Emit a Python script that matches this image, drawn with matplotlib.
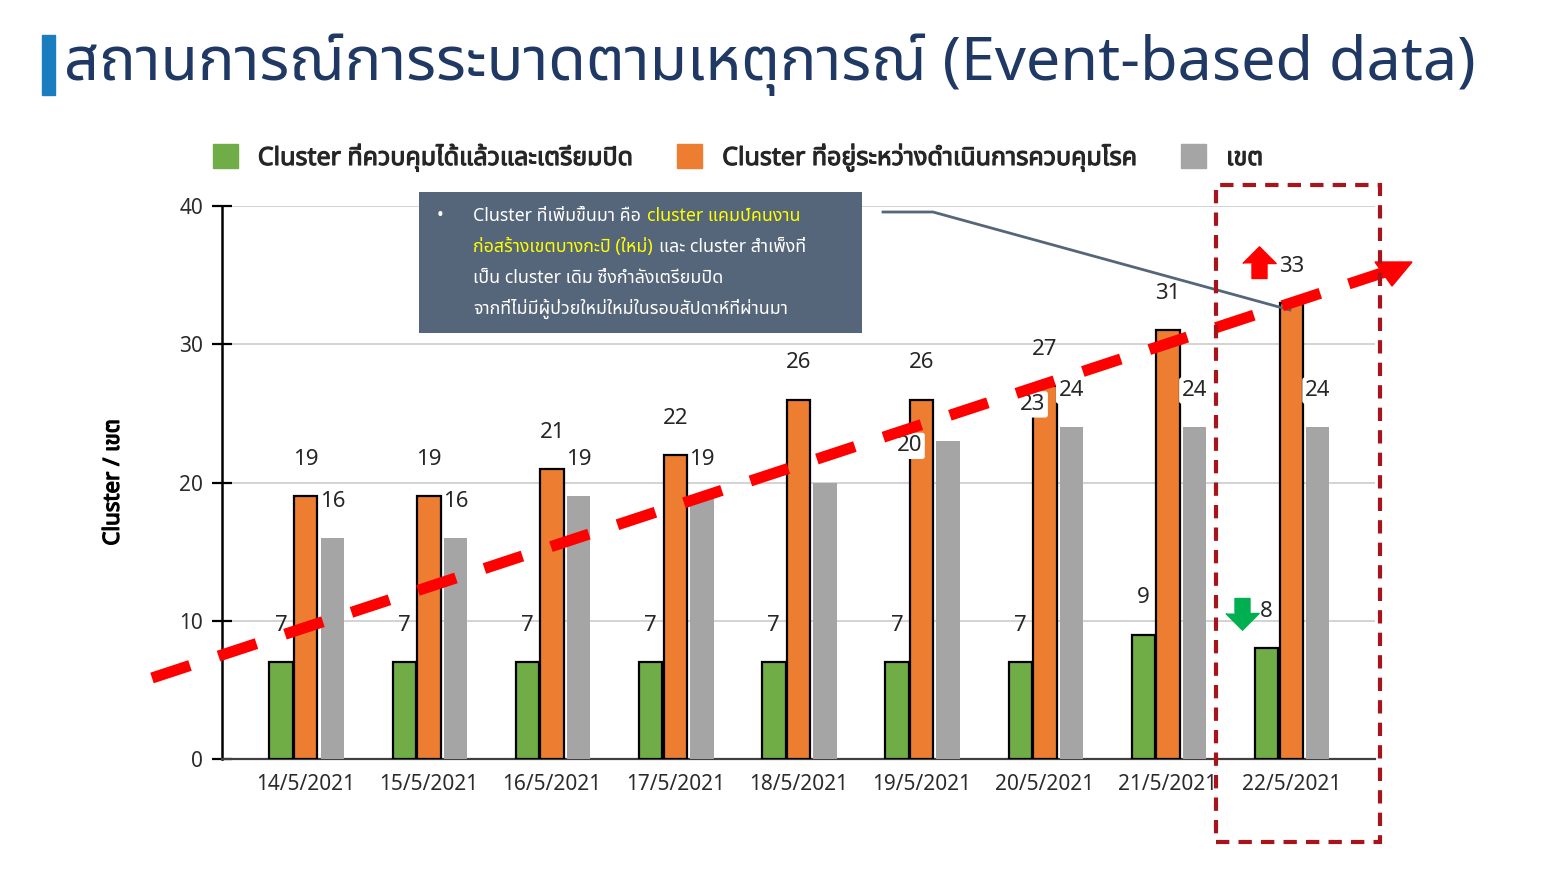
import matplotlib
matplotlib.use('Agg')
import matplotlib.pyplot as plt
import matplotlib.font_manager as fm
import matplotlib.patheffects as pe
from matplotlib.ft2font import FT2Font
from matplotlib.patches import Patch, Rectangle, Polygon
from matplotlib.lines import Line2D
import numpy as np

# data
dates = ['14/5/2021', '15/5/2021', '16/5/2021', '17/5/2021', '18/5/2021',
         '19/5/2021', '20/5/2021', '21/5/2021', '22/5/2021']
closing = [7, 7, 7, 7, 7, 7, 7, 9, 8]
ongoing = [19, 19, 21, 22, 26, 26, 27, 31, 33]
districts = [16, 16, 19, 19, 20, 23, 24, 24, 24]
# on the slide the 18/5 and 19/5 district labels sit one day late
district_label_day = [0, 1, 2, 3, 5, 6, 6, 7, 8]

series_names = ['Cluster ที่ควบคุมได้แล้วและเตรียมปิด',
                'Cluster ที่อยู่ระหว่างดำเนินการควบคุมโรค',
                'เขต']
title = 'สถานการณ์การระบาดตามเหตุการณ์ (Event-based data)'
note_lines = [
    [('Cluster ที่เพิ่มขึ้นมา คือ', 'white'), ('cluster แคมป์คนงาน', '#FFFF00')],
    [('ก่อสร้างเขตบางกะปิ (ใหม่)', '#FFFF00'), ('และ cluster สำเพ็งที่', 'white')],
    [('เป็น cluster เดิม ซึ่งกำลังเตรียมปิด', 'white')],
    [('จากที่ไม่มีผู้ป่วยใหม่ใหม่ในรอบสัปดาห์ที่ผ่านมา', 'white')],
]

GREEN = '#70AD47'
ORANGE = '#ED7D31'
GREY = '#A5A5A5'
W, H = 1550, 872


def find_thai_font():
    '''
    Look for an installed family that has Thai glyphs
    '''
    names = []
    for f in fm.fontManager.ttflist:
        try:
            if 0x0E01 in FT2Font(f.fname).get_charmap():
                names.append(f.name)
        except Exception:
            pass
    for pref in ['Noto Sans Thai', 'Noto Sans Thai UI', 'Tahoma',
                 'Leelawadee UI', 'Loma', 'Garuda', 'Sarabun']:
        if pref in names:
            return pref
    return names[0] if names else 'DejaVu Sans'


def px(x, y):
    '''pixel position on the slide -> figure fraction'''
    return x / W, 1 - y / H


def main():
    thai = find_thai_font()
    plt.rcParams['font.family'] = [thai, 'DejaVu Sans']
    fake_bold = [pe.withStroke(linewidth=0.9, foreground='black')]

    fig = plt.figure(figsize=(W / 100, H / 100), dpi=100)
    ax = fig.add_axes([222 / W, 1 - 759 / H, (1375 - 222) / W, (759 - 206) / H])

    x = np.arange(len(dates))
    w = 0.19
    ax.bar(x - 0.2, closing, w, color=GREEN, edgecolor='black', linewidth=1.6, zorder=3)
    ax.bar(x, ongoing, w, color=ORANGE, edgecolor='black', linewidth=1.6, zorder=3)
    ax.bar(x + 0.215, districts, w, color=GREY, zorder=3)

    lab = dict(fontsize=16, color='#262626', ha='center', va='center', zorder=4)
    for i in x:
        ax.text(i - 0.2, closing[i] + 2.65, str(closing[i]), **lab)
        ax.text(i, ongoing[i] + 2.65, str(ongoing[i]), **lab)
    for v, d in zip(districts, district_label_day):
        shifted = d != districts.index(v) and v in (20, 23)
        dx = -0.1 if shifted else 0.215
        box = dict(boxstyle='round,pad=0.12', fc='white', ec='none') if v >= 20 else None
        ax.text(d + dx, v + 2.65, str(v), bbox=box, **lab)

    ax.set_xlim(-0.68, 8.68)
    ax.set_ylim(0, 40)
    ax.set_yticks([0, 10, 20, 30, 40])
    ax.set_xticks(x)
    ax.set_xticklabels(dates)
    ax.tick_params(axis='x', length=0, pad=11, labelsize=15, labelcolor='#2b2b2b')
    ax.tick_params(axis='y', direction='inout', length=15, width=1.6,
                   pad=6, labelsize=15, labelcolor='#2b2b2b')
    ax.grid(axis='y', color='#D0D0D0', linewidth=1.3, zorder=0)
    ax.set_axisbelow(True)
    for s in ['top', 'right']:
        ax.spines[s].set_visible(False)
    ax.spines['left'].set_linewidth(1.8)
    ax.spines['bottom'].set_color('#404040')
    ax.spines['bottom'].set_linewidth(1.6)
    ax.set_ylabel('Cluster / เขต', fontsize=16, color='black', labelpad=40,
                  path_effects=fake_bold)

    handles = [Patch(color=c) for c in (GREEN, ORANGE, GREY)]
    leg = fig.legend(handles, series_names, loc='center', bbox_to_anchor=px(738, 158),
                     ncol=3, frameon=False, handlelength=1.0, handleheight=1.1,
                     handletextpad=0.8, columnspacing=1.8,
                     prop=dict(family=[thai, 'DejaVu Sans'], size=18))
    for t in leg.get_texts():
        t.set_path_effects([pe.withStroke(linewidth=0.8, foreground='#262626')])
        t.set_color('#262626')

    # title with the blue bar
    fig.add_artist(Rectangle(px(42, 95), 13 / W, 60 / H, transform=fig.transFigure,
                             color='#1A7DC0'))
    fig.text(*px(64, 65), title, fontsize=44, color='#1F3864', va='center', ha='left')

    # note box
    fig.add_artist(Rectangle(px(419, 333), (862 - 419) / W, (333 - 192) / H,
                             transform=fig.transFigure, facecolor='#56667A',
                             edgecolor='none', zorder=5))
    renderer = fig.canvas.get_renderer()
    fig.text(*px(437, 220), '•', color='white', fontsize=13, zorder=6, va='baseline')
    for k, parts in enumerate(note_lines):
        xp = 473
        yp = 221 + 31 * k
        for s, c in parts:
            t = fig.text(*px(xp, yp), s, color=c, fontsize=12.8, zorder=6,
                         va='baseline', ha='left')
            xp += t.get_window_extent(renderer).width + 6

    # connector from box to the last orange bar
    fig.add_artist(Line2D([883 / W, 933 / W, 1290 / W],
                          [1 - 212 / H, 1 - 212 / H, 1 - 310 / H],
                          transform=fig.transFigure, color='#56667A', lw=2, zorder=6))

    # red dashed trend arrow
    trend = Line2D([152 / W, 1385 / W], [1 - 678 / H, 1 - 272 / H],
                   transform=fig.transFigure, color='#FF0000', lw=8,
                   solid_capstyle='butt', dash_capstyle='butt', zorder=7)
    trend.set_dashes([3.6, 2.7])
    fig.add_artist(trend)
    fig.add_artist(Polygon([px(1412, 262), px(1375, 262), px(1392, 286)],
                           closed=True, transform=fig.transFigure,
                           color='#FF0000', zorder=7))

    # dashed frame round the last day
    fig.add_artist(Rectangle(px(1216, 842), (1380 - 1216) / W, (842 - 185) / H,
                             transform=fig.transFigure, fill=False,
                             edgecolor='#A8141C', lw=3, linestyle=(0, (3.2, 2.2)),
                             zorder=8))

    # up / down markers
    up = [(-1, 0), (0, 1), (1, 0), (0.45, 0), (0.45, -0.9), (-0.45, -0.9), (-0.45, 0)]
    down = [(vx, -vy) for vx, vy in up]
    ax.plot([8 - 0.26], [35.9], marker=up, markersize=24, color='#FF0000',
            linestyle='none', zorder=5, clip_on=False)
    ax.plot([8 - 0.4], [10.55], marker=down, markersize=24, color='#00B050',
            linestyle='none', zorder=5, clip_on=False)

    fig.savefig('out.png', dpi=100)


if __name__ == "__main__":
    main()
